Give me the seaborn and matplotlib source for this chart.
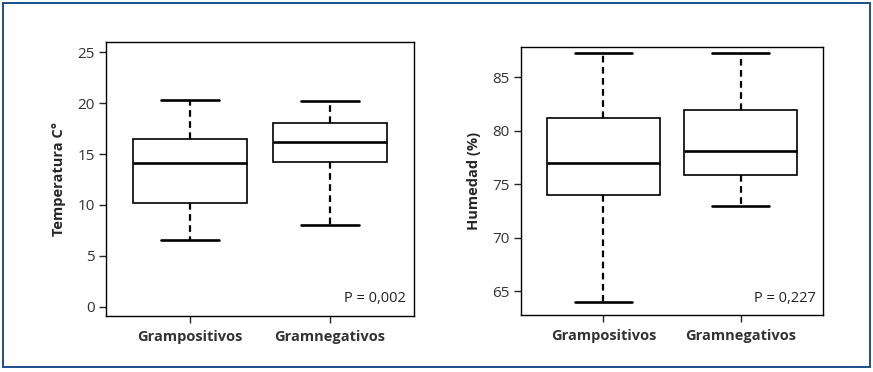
import numpy as np
import pandas as pd
import matplotlib
matplotlib.use("Agg")
import matplotlib.pyplot as plt
import seaborn as sns
from matplotlib.patches import Rectangle

# five-number summaries: min, q1, median, q3, max
groups = ["Grampositivos", "Gramnegativos"]
temp_pos = [6.6, 10.2, 14.1, 16.5, 20.3]
temp_neg = [8.0, 14.2, 16.2, 18.0, 20.2]
hum_pos = [64.0, 74.0, 77.0, 81.2, 87.2]
hum_neg = [73.0, 75.9, 78.1, 81.9, 87.2]
temp_ticks = [0, 5, 10, 15, 20, 25]
hum_ticks = [65, 70, 75, 80, 85]
p_temp = "P = 0,002"
p_hum = "P = 0,227"

sns.set_style("ticks")
plt.rcParams["font.family"] = ["Open Sans", "DejaVu Sans"]

temp = pd.DataFrame({"grupo": [groups[0]] * 5 + [groups[1]] * 5,
                     "valor": temp_pos + temp_neg})
hum = pd.DataFrame({"grupo": [groups[0]] * 5 + [groups[1]] * 5,
                    "valor": hum_pos + hum_neg})

fig = plt.figure(figsize=(8.73, 3.72), dpi=100)
ax1 = fig.add_axes([0.1214, 0.1505, 0.3528, 0.7366])
ax2 = fig.add_axes([0.5968, 0.1532, 0.3459, 0.7204])

box_kw = dict(whis=np.inf, width=0.82, color="white", linecolor="black",
              linewidth=1.2, showfliers=False,
              whiskerprops=dict(linestyle=(0, (3, 2)), linewidth=1.6),
              capprops=dict(linewidth=1.9),
              medianprops=dict(linewidth=1.9))

for ax, df, ticks, ylim, label, ptxt in [
        (ax1, temp, temp_ticks, (-0.9, 26), "Temperatura C°", p_temp),
        (ax2, hum, hum_ticks, (62.8, 87.8), "Humedad (%)", p_hum)]:
    sns.boxplot(data=df, x="grupo", y="valor", ax=ax, **box_kw)
    ax.set_xlim(-0.6, 1.6)
    ax.set_ylim(*ylim)
    ax.set_yticks(ticks)
    ax.set_xlabel("")
    ax.set_ylabel(label, fontsize=10.5, fontweight="bold", labelpad=8)
    ax.tick_params(axis="y", labelsize=11, length=5, width=1,
                   labelcolor="#333333", pad=3)
    ax.tick_params(axis="x", labelsize=10.5, length=5, width=1, pad=5)
    for t in ax.get_xticklabels():
        t.set_fontweight("bold")
        t.set_color("#333333")
    for s in ax.spines.values():
        s.set_visible(True)
        s.set_linewidth(1.0)
        s.set_color("black")
    ax.text(0.975, 0.035, ptxt, transform=ax.transAxes, ha="right",
            va="bottom", fontsize=10.5, color="#222222")

# blue frame around the whole figure
fig.patches.append(Rectangle((0.004, 0.013), 0.992, 0.98, transform=fig.transFigure,
                             fill=False, edgecolor="#1c4f8e", linewidth=1.4))

fig.savefig("out.png", dpi=100)
